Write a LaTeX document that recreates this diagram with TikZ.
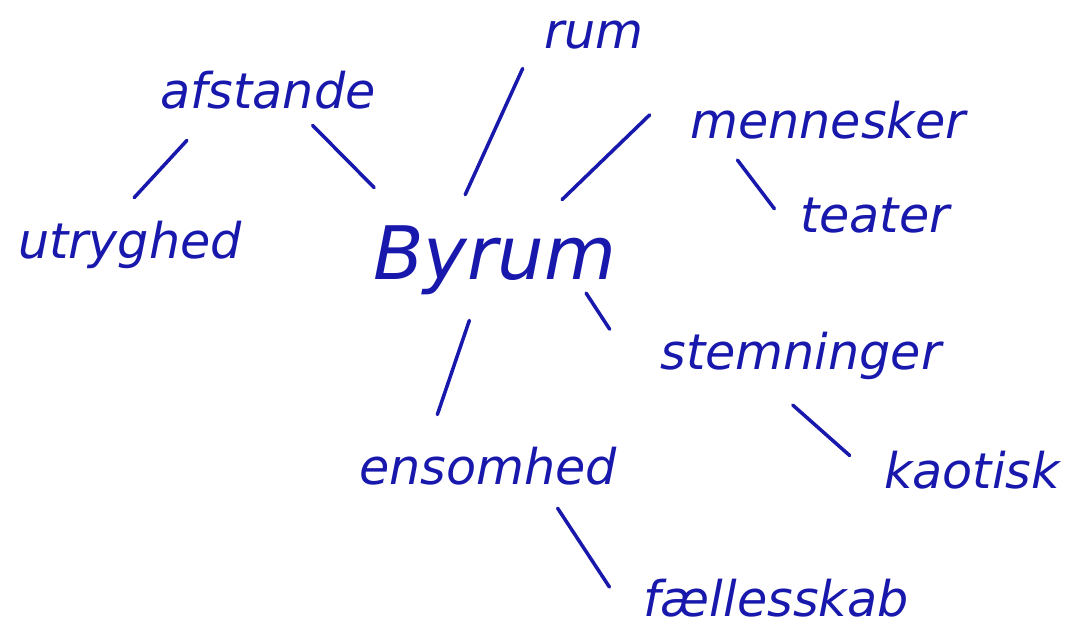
\documentclass[tikz,border=0pt]{standalone}
\usepackage{fontspec}
\setmainfont{DejaVu Sans}
\usepackage{tikz}
\definecolor{ink}{RGB}{24,24,172}

\begin{document}
\begin{tikzpicture}[
        x=0.02cm, y=-0.02cm,
        word-node/.style={text=ink, inner sep=0pt, font=\fontsize{28}{32}\selectfont\itshape},
        hub-node/.style={text=ink, inner sep=0pt, font=\fontsize{42}{48}\selectfont\itshape},
        pen-line/.style={ink, line width=2pt, line cap=round}
    ]
        \useasboundingbox (0, 0) rectangle (1086, 636);

        \node[hub-node, minimum width=4.6cm, minimum height=2.4cm] (byrum) at (495, 260) {Byrum};

        \node[word-node, minimum width=2.16cm, minimum height=0.92cm] (rum) at (594, 35) {rum};
        \node[word-node, minimum width=4.5cm, minimum height=1.12cm] (afstande) at (268, 90) {afstande};
        \node[word-node, minimum width=6.4cm, minimum height=1cm] (mennesker) at (828, 120) {mennesker};
        \node[word-node, minimum width=4.6cm, minimum height=1.88cm] (utryghed) at (130, 245) {utryghed};
        \node[word-node, minimum width=3.6cm, minimum height=1.04cm] (teater) at (875, 216) {teater};
        \node[word-node, minimum width=6.94cm, minimum height=1.26cm] (stemninger) at (801, 356) {stemninger};
        \node[word-node, minimum width=5.34cm, minimum height=1.04cm] (ensomhed) at (488, 466) {ensomhed};
        \node[word-node, minimum width=4.4cm, minimum height=1.2cm] (kaotisk) at (972, 470) {kaotisk};
        \node[word-node, minimum width=5.76cm, minimum height=1.34cm] (faellesskab) at (776, 598) {fællesskab};

        \draw[pen-line, shorten <=0.6cm, shorten >=0cm] (afstande.205) -- (utryghed.85);
        \draw[pen-line, shorten <=0.2cm, shorten >=0.34cm] (afstande.-37) -- (byrum.151);
        \draw[pen-line, shorten <=0.82cm, shorten >=0.11cm] (rum.176) -- (byrum.118);
        \draw[pen-line, shorten <=0.5cm, shorten >=0cm] (mennesker.172) -- (byrum.42);
        \draw[pen-line, shorten <=0.37cm, shorten >=0.34cm] (mennesker.194) -- (teater.184);
        \draw[pen-line, shorten <=-0.65cm, shorten >=0.64cm] (byrum.-29) -- (stemninger.180);
        \draw[pen-line, shorten <=0cm, shorten >=0.53cm] (byrum.247) -- (ensomhed.156);
        \draw[pen-line, shorten <=0.52cm, shorten >=0.32cm] (stemninger.229) -- (kaotisk.178);
        \draw[pen-line, shorten <=0.38cm, shorten >=0.81cm] (ensomhed.-24) -- (faellesskab.189);
\end{tikzpicture}
\end{document}
